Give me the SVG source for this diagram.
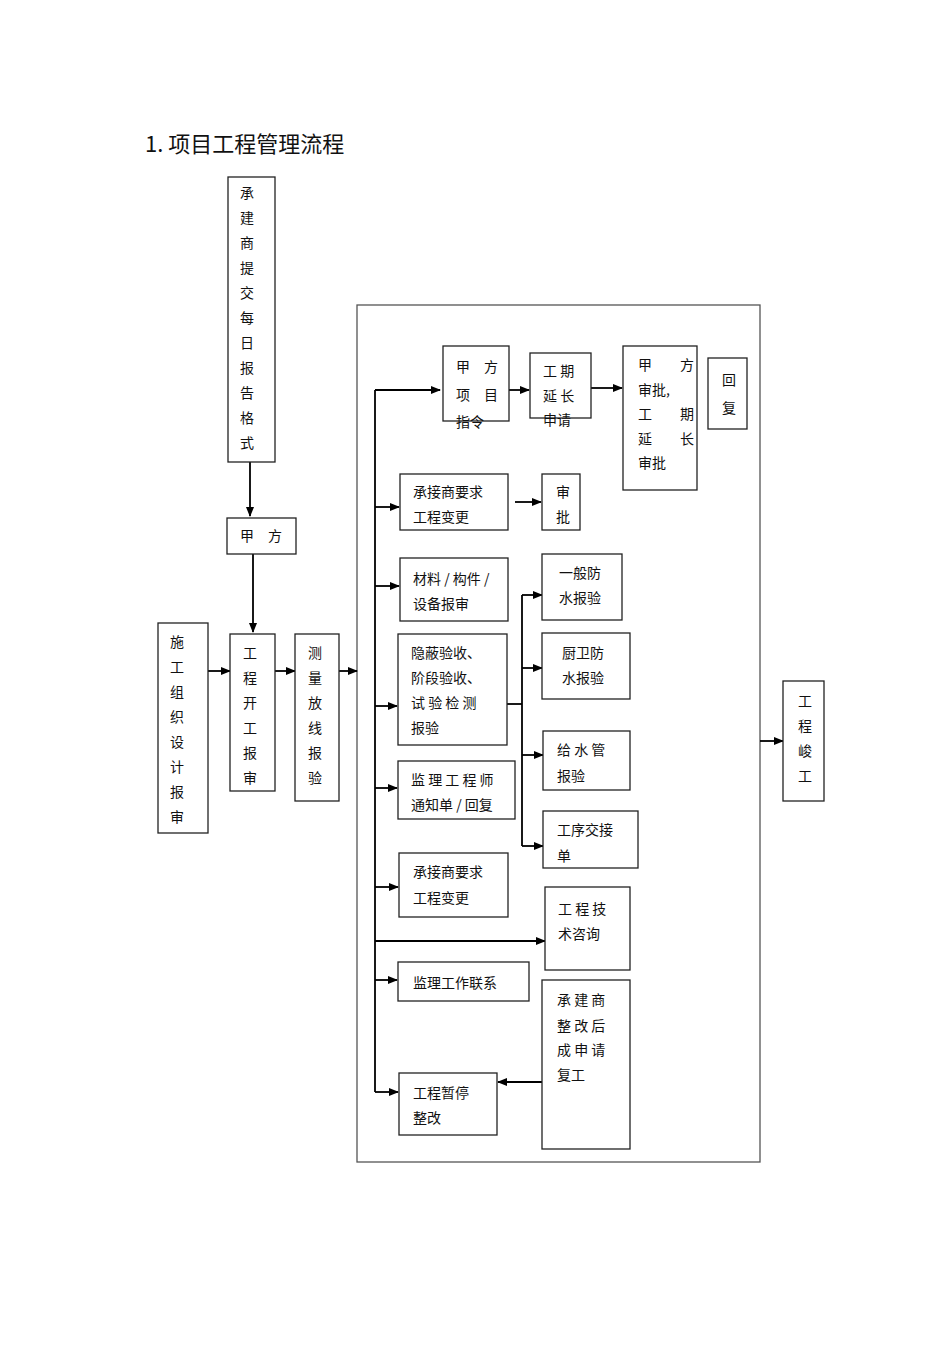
<svg xmlns="http://www.w3.org/2000/svg" width="950" height="1345" viewBox="0 0 950 1345">
<defs>
<marker id="ah" markerWidth="10" markerHeight="8" refX="9" refY="4" orient="auto" markerUnits="userSpaceOnUse"><path d="M0,0 L10,4 L0,8 z" fill="#000"/></marker>
<style>
rect{fill:#fff;stroke:#222;stroke-width:1.3}
.bg{fill:none;stroke:#555;stroke-width:1.3}
text{font-family:"Noto Sans CJK SC","Liberation Sans",sans-serif;font-size:14px;fill:#111;dominant-baseline:central}
.c{text-anchor:middle}
line,polyline{stroke:#000;stroke-width:1.8;fill:none}
.a{marker-end:url(#ah)}
</style>
</defs>
<rect width="950" height="1345" style="fill:#fff;stroke:none"/>
<text x="145" y="142" style="font-size:22px">1. 项目工程管理流程</text>
<rect class="bg" x="357" y="305" width="403" height="857"/>
<g id="connectors">
<line class="a" x1="250" y1="462" x2="250" y2="516"/>
<line class="a" x1="253" y1="554" x2="253" y2="632"/>
<line class="a" x1="208" y1="671" x2="230" y2="671"/>
<line class="a" x1="275" y1="671" x2="295" y2="671"/>
<line class="a" x1="339" y1="671" x2="357" y2="671"/>
<line x1="375" y1="390" x2="375" y2="1092"/>
<line class="a" x1="375" y1="390" x2="440" y2="390"/>
<line class="a" x1="509" y1="390" x2="529" y2="390"/>
<line class="a" x1="591" y1="388" x2="622" y2="388"/>
<line class="a" x1="375" y1="507" x2="399" y2="507"/>
<line class="a" x1="515" y1="502" x2="541" y2="502"/>
<line class="a" x1="375" y1="586" x2="399" y2="586"/>
<line x1="522" y1="595" x2="522" y2="846"/>
<line class="a" x1="522" y1="595" x2="542" y2="595"/>
<line class="a" x1="375" y1="706" x2="397" y2="706"/>
<line x1="507" y1="704" x2="522" y2="704"/>
<line class="a" x1="522" y1="668" x2="542" y2="668"/>
<line class="a" x1="375" y1="788" x2="397" y2="788"/>
<line class="a" x1="522" y1="755" x2="543" y2="755"/>
<line class="a" x1="522" y1="846" x2="543" y2="846"/>
<line class="a" x1="375" y1="887" x2="398" y2="887"/>
<line class="a" x1="375" y1="941" x2="545" y2="941"/>
<line class="a" x1="375" y1="980" x2="397" y2="980"/>
<line class="a" x1="542" y1="1082" x2="498" y2="1082"/>
<line class="a" x1="375" y1="1092" x2="398" y2="1092"/>
<line class="a" x1="760" y1="741" x2="783" y2="741"/>
</g>
<g id="n1"><rect x="228" y="177" width="47" height="285"/>
<text class="c" x="247" y="192">承</text><text class="c" x="247" y="217">建</text><text class="c" x="247" y="242">商</text><text class="c" x="247" y="267">提</text><text class="c" x="247" y="292">交</text><text class="c" x="247" y="317">每</text><text class="c" x="247" y="342">日</text><text class="c" x="247" y="367">报</text><text class="c" x="247" y="392">告</text><text class="c" x="247" y="417">格</text><text class="c" x="247" y="442">式</text></g>
<g id="n2"><rect x="227" y="518" width="69" height="36"/><text x="240" y="535">甲　方</text></g>
<g id="n3"><rect x="158" y="623" width="50" height="210"/>
<text class="c" x="177" y="641">施</text><text class="c" x="177" y="666">工</text><text class="c" x="177" y="691">组</text><text class="c" x="177" y="716">织</text><text class="c" x="177" y="741">设</text><text class="c" x="177" y="766">计</text><text class="c" x="177" y="791">报</text><text class="c" x="177" y="816">审</text></g>
<g id="n4"><rect x="230" y="634" width="45" height="157"/>
<text class="c" x="250" y="652">工</text><text class="c" x="250" y="677">程</text><text class="c" x="250" y="702">开</text><text class="c" x="250" y="727">工</text><text class="c" x="250" y="752">报</text><text class="c" x="250" y="777">审</text></g>
<g id="n5"><rect x="295" y="634" width="44" height="167"/>
<text class="c" x="315" y="652">测</text><text class="c" x="315" y="677">量</text><text class="c" x="315" y="702">放</text><text class="c" x="315" y="727">线</text><text class="c" x="315" y="752">报</text><text class="c" x="315" y="777">验</text></g>
<g id="n6"><rect x="443" y="346" width="66" height="75"/><text x="456" y="366">甲　方</text><text x="456" y="394">项　目</text><text x="456" y="421">指令</text></g>
<g id="n7"><rect x="530" y="353" width="61" height="65"/><text x="543" y="370">工 期</text><text x="543" y="395">延 长</text><text x="543" y="419">申请</text></g>
<g id="n8"><rect x="623" y="346" width="74" height="144"/><text x="638" y="364">甲　　方</text><text x="638" y="389">审批,</text><text x="638" y="413">工　　期</text><text x="638" y="438">延　　长</text><text x="638" y="462">审批</text></g>
<g id="n9"><rect x="708" y="358" width="39" height="71"/><text class="c" x="729" y="379">回</text><text class="c" x="729" y="407">复</text></g>
<g id="n10"><rect x="400" y="474" width="108" height="56"/><text x="413" y="491">承接商要求</text><text x="413" y="516">工程变更</text></g>
<g id="n11"><rect x="542" y="474" width="38" height="56"/><text class="c" x="563" y="491">审</text><text class="c" x="563" y="516">批</text></g>
<g id="n12"><rect x="400" y="558" width="108" height="63"/><text x="413" y="578">材料 / 构件 /</text><text x="413" y="603">设备报审</text></g>
<g id="n13"><rect x="542" y="554" width="80" height="66"/><text x="559" y="572">一般防</text><text x="559" y="597">水报验</text></g>
<g id="n14"><rect x="398" y="634" width="109" height="111"/><text x="411" y="652">隐蔽验收、</text><text x="411" y="677">阶段验收、</text><text x="411" y="702">试 验 检 测</text><text x="411" y="727">报验</text></g>
<g id="n15"><rect x="542" y="633" width="88" height="66"/><text x="562" y="652">厨卫防</text><text x="562" y="677">水报验</text></g>
<g id="n16"><rect x="398" y="761" width="117" height="58"/><text x="411" y="779">监 理 工 程 师</text><text x="411" y="804">通知单 / 回复</text></g>
<g id="n17"><rect x="543" y="731" width="87" height="59"/><text x="557" y="749">给 水 管</text><text x="557" y="775">报验</text></g>
<g id="n18"><rect x="543" y="811" width="95" height="57"/><text x="557" y="829">工序交接</text><text x="557" y="855">单</text></g>
<g id="n19"><rect x="399" y="853" width="109" height="64"/><text x="413" y="871">承接商要求</text><text x="413" y="897">工程变更</text></g>
<g id="n20"><rect x="545" y="887" width="85" height="83"/><text x="558" y="908">工 程 技</text><text x="558" y="933">术咨询</text></g>
<g id="n21"><rect x="398" y="962" width="131" height="39"/><text x="413" y="982">监理工作联系</text></g>
<g id="n22"><rect x="542" y="980" width="88" height="169"/><text x="557" y="999">承 建 商</text><text x="557" y="1025">整 改 后</text><text x="557" y="1049">成 申 请</text><text x="557" y="1074">复工</text></g>
<g id="n23"><rect x="399" y="1073" width="98" height="62"/><text x="413" y="1092">工程暂停</text><text x="413" y="1117">整改</text></g>
<g id="n24"><rect x="783" y="681" width="41" height="120"/><text class="c" x="805" y="700">工</text><text class="c" x="805" y="725">程</text><text class="c" x="805" y="750">峻</text><text class="c" x="805" y="775">工</text></g>
</svg>
